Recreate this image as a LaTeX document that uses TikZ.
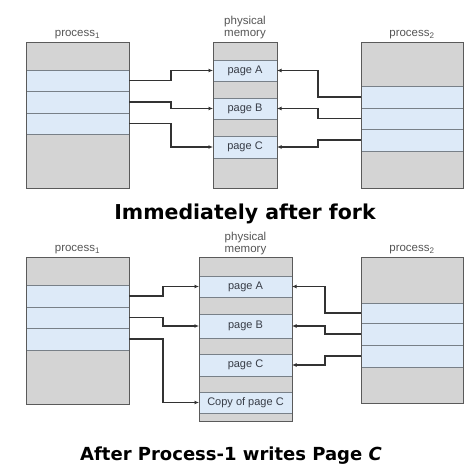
\documentclass[tikz,border=0pt]{standalone}
\usepackage{xcolor}
\usepackage{fontspec}
\usepackage{tikz}
\usetikzlibrary{positioning}
\usetikzlibrary{arrows.meta}
\setmainfont{Liberation Sans}
\newfontfamily\titlefont{DejaVu Sans}

\definecolor{grayclr}{RGB}{212,212,212}
\definecolor{blueclr}{RGB}{221,234,248}
\definecolor{lineclr}{RGB}{120,128,136}
\definecolor{boxclr}{RGB}{90,90,90}
\definecolor{txtclr}{RGB}{55,60,70}
\definecolor{lblclr}{RGB}{85,85,85}
\definecolor{ptrclr}{RGB}{50,50,50}

\tikzset{
  graycell/.style={draw=lineclr, line width=0.6pt, fill=grayclr, inner sep=0pt, outer sep=0pt, anchor=north west},
  bluecell/.style={graycell, fill=blueclr, text=txtclr, font=\fontsize{11}{11}\selectfont},
  boxline/.style={draw=boxclr, line width=0.8pt},
  lbl/.style={text=lblclr, align=center, inner sep=1pt, font=\fontsize{11.5}{11.5}\selectfont},
  ptr/.style={draw=ptrclr, line width=1.1pt, -{Latex[length=4.5pt,width=4pt]}},
  caption/.style={font=\titlefont\bfseries\selectfont, inner sep=0pt, anchor=base}
}

\begin{document}
\begin{tikzpicture}[x=1pt,y=1pt,yscale=-1]
        \useasboundingbox (0,0) rectangle (466,465);

        %Top: process 1
        \node[graycell, minimum width=103, minimum height=28] (t1a) at (26,42) {};
        \node[bluecell, minimum width=103, minimum height=21] (t1b) at (26,70) {};
        \node[bluecell, minimum width=103, minimum height=22] (t1c) at (26,91) {};
        \node[bluecell, minimum width=103, minimum height=21] (t1d) at (26,113) {};
        \node[graycell, minimum width=103, minimum height=54] (t1e) at (26,134) {};
        \draw[boxline] (t1a.north west) rectangle (t1e.south east);
        \node[lbl, above=2pt of t1a] (t1l) {process\textsubscript{1}};

        %Top: physical memory
        \node[graycell, minimum width=64, minimum height=18] (tma) at (213,42) {};
        \node[bluecell, minimum width=64, minimum height=21] (tmb) at (213,60) {page A};
        \node[graycell, minimum width=64, minimum height=17] (tmc) at (213,81) {};
        \node[bluecell, minimum width=64, minimum height=21] (tmd) at (213,98) {page B};
        \node[graycell, minimum width=64, minimum height=17] (tme) at (213,119) {};
        \node[bluecell, minimum width=64, minimum height=22] (tmf) at (213,136) {page C};
        \node[graycell, minimum width=64, minimum height=30] (tmg) at (213,158) {};
        \draw[boxline] (tma.north west) rectangle (tmg.south east);
        \node[lbl, above=2pt of tma] (tml) {physical\\memory};

        %Top: process 2
        \node[graycell, minimum width=102, minimum height=44] (t2a) at (361,42) {};
        \node[bluecell, minimum width=102, minimum height=22] (t2b) at (361,86) {};
        \node[bluecell, minimum width=102, minimum height=21] (t2c) at (361,108) {};
        \node[bluecell, minimum width=102, minimum height=22] (t2d) at (361,129) {};
        \node[graycell, minimum width=102, minimum height=37] (t2e) at (361,151) {};
        \draw[boxline] (t2a.north west) rectangle (t2e.south east);
        \node[lbl, above=2pt of t2a] (t2l) {process\textsubscript{2}};

        %Top: page table pointers
        \draw[ptr] (t1b.east) -- ++(42,0) |- (tmb.west);
        \draw[ptr] (t1c.east) -- ++(42,0) |- (tmd.west);
        \draw[ptr] (t1d.east) -- ++(42,0) |- (tmf.west);
        \draw[ptr] (t2b.west) -- ++(-43,0) |- (tmb.east);
        \draw[ptr] (t2c.west) -- ++(-43,0) |- (tmd.east);
        \draw[ptr] (t2d.west) -- ++(-43,0) |- (tmf.east);

        \node[caption, font=\fontsize{20.5}{20.5}\titlefont\bfseries] (ttl) at (245,220) {Immediately after fork};

        %Bottom: process 1
        \node[graycell, minimum width=103, minimum height=28] (b1a) at (26,257) {};
        \node[bluecell, minimum width=103, minimum height=22] (b1b) at (26,285) {};
        \node[bluecell, minimum width=103, minimum height=21] (b1c) at (26,307) {};
        \node[bluecell, minimum width=103, minimum height=22] (b1d) at (26,328) {};
        \node[graycell, minimum width=103, minimum height=54] (b1e) at (26,350) {};
        \draw[boxline] (b1a.north west) rectangle (b1e.south east);
        \node[lbl, above=2pt of b1a] (b1l) {process\textsubscript{1}};

        %Bottom: physical memory
        \node[graycell, minimum width=93, minimum height=19] (bma) at (199,257) {};
        \node[bluecell, minimum width=93, minimum height=21] (bmb) at (199,276) {page A};
        \node[graycell, minimum width=93, minimum height=17] (bmc) at (199,297) {};
        \node[bluecell, minimum width=93, minimum height=24] (bmd) at (199,314) {page B};
        \node[graycell, minimum width=93, minimum height=16] (bme) at (199,338) {};
        \node[bluecell, minimum width=93, minimum height=22] (bmf) at (199,354) {page C};
        \node[graycell, minimum width=93, minimum height=16] (bmg) at (199,376) {};
        \node[bluecell, minimum width=93, minimum height=21] (bmh) at (199,392) {Copy of page C};
        \node[graycell, minimum width=93, minimum height=8] (bmi) at (199,413) {};
        \draw[boxline] (bma.north west) rectangle (bmi.south east);
        \node[lbl, above=1pt of bma] (bml) {physical\\memory};

        %Bottom: process 2
        \node[graycell, minimum width=102, minimum height=46] (b2a) at (361,257) {};
        \node[bluecell, minimum width=102, minimum height=20] (b2b) at (361,303) {};
        \node[bluecell, minimum width=102, minimum height=22] (b2c) at (361,323) {};
        \node[bluecell, minimum width=102, minimum height=22] (b2d) at (361,345) {};
        \node[graycell, minimum width=102, minimum height=36] (b2e) at (361,367) {};
        \draw[boxline] (b2a.north west) rectangle (b2e.south east);
        \node[lbl, above=2pt of b2a] (b2l) {process\textsubscript{2}};

        %Bottom: page table pointers
        \draw[ptr] (b1b.east) -- ++(34,0) |- (bmb.west);
        \draw[ptr] (b1c.east) -- ++(34,0) |- (bmd.west);
        \draw[ptr] (b1d.east) -- ++(34,0) |- (bmh.west);
        \draw[ptr] (b2b.west) -- ++(-36,0) |- (bmb.east);
        \draw[ptr] (b2c.west) -- ++(-36,0) |- (bmd.east);
        \draw[ptr] (b2d.west) -- ++(-36,0) |- (bmf.east);

        \node[caption, font=\fontsize{18}{18}\titlefont\bfseries] (btl) at (231,460) {After Process-1 writes Page \textit{C}};
\end{tikzpicture}
\end{document}
